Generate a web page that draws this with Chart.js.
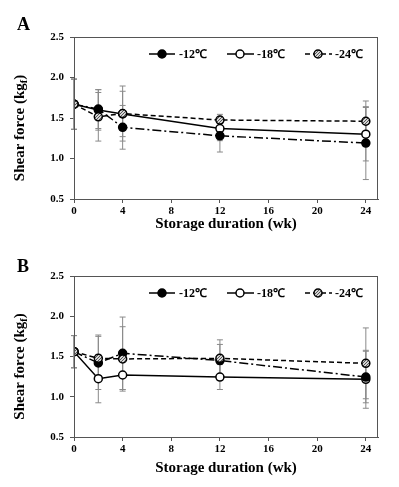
<!DOCTYPE html>
<html>
<head>
<meta charset="utf-8">
<script src="https://cdn.jsdelivr.net/npm/chart.js@4.4.0/dist/chart.umd.min.js"></script>
<style>
    html, body { margin: 0; padding: 0; background: #fff; }
    canvas { display: block; }
</style>
</head>
<body>
<canvas id="chartA" width="399" height="243"></canvas>
<canvas id="chartB" width="399" height="244"></canvas>
<script>
// Semanas de almacenamiento y etiquetas
const weeks = [0, 2, 4, 12, 24];
const xTicks = [0, 4, 8, 12, 16, 20, 24];
const seriesNames = ['-12\u2103', '-18\u2103', '-24\u2103'];

// Panel A
const aMinus12 = [1.67, 1.61, 1.385, 1.28, 1.19];
const aMinus18 = [1.67, 1.60, 1.55, 1.37, 1.30];
const aMinus24 = [1.67, 1.515, 1.555, 1.475, 1.46];
const aMinus12Sd = [0.31, 0.24, 0.27, 0.20, 0.45];
const aMinus18Sd = [0.31, 0.25, 0.28, 0.15, 0.33];
const aMinus24Sd = [0.31, 0.30, 0.34, 0.07, 0.25];

// Panel B
const bMinus12 = [1.56, 1.42, 1.54, 1.45, 1.245];
const bMinus18 = [1.56, 1.225, 1.27, 1.245, 1.217];
const bMinus24 = [1.56, 1.477, 1.47, 1.477, 1.415];
const bMinus12Sd = [0.20, 0.33, 0.45, 0.20, 0.32];
const bMinus18Sd = [0.20, 0.30, 0.18, 0.155, 0.36];
const bMinus24Sd = [0.20, 0.29, 0.40, 0.23, 0.44];

const serif = "'Liberation Serif', 'Times New Roman', serif";

function hatchPattern() {
    const c = document.createElement('canvas');
    c.width = 3; c.height = 3;
    const g = c.getContext('2d');
    g.fillStyle = '#d4d4d4';
    g.fillRect(0, 0, 3, 3);
    g.strokeStyle = '#555';
    g.lineWidth = 1;
    g.beginPath();
    g.moveTo(-1, 4); g.lineTo(4, -1);
    g.moveTo(-1, 1); g.lineTo(1, -1);
    g.moveTo(2, 4); g.lineTo(4, 2);
    g.stroke();
    return g.createPattern(c, 'repeat');
}
const hatch = hatchPattern();

const styles = [
    { dash: [9, 3, 2, 3], fill: '#000', order: 1 },
    { dash: [], fill: '#fff', order: 2 },
    { dash: [5, 3], fill: hatch, order: 0 }
];

function toPoints(vals) {
    return weeks.map((w, k) => ({ x: w, y: vals[k] }));
}

function buildDatasets(series, sds) {
    return series.map((vals, i) => ({
        label: seriesNames[i],
        data: toPoints(vals),
        sd: sds[i],
        borderColor: '#000',
        borderWidth: 1.5,
        borderDash: styles[i].dash,
        pointRadius: 4,
        pointBorderWidth: 1.5,
        pointBorderColor: '#000',
        pointBackgroundColor: styles[i].fill,
        fill: false,
        tension: 0,
        order: styles[i].order
    }));
}

// Barras de error, marco, leyenda y títulos
const extrasPlugin = {
    id: 'extras',
    beforeDatasetsDraw(chart) {
        const ctx = chart.ctx;
        const ys = chart.scales.y;
        ctx.save();
        ctx.strokeStyle = '#8a8a8a';
        ctx.lineWidth = 1;
        chart.data.datasets.forEach((ds, i) => {
            const meta = chart.getDatasetMeta(i);
            meta.data.forEach((pt, j) => {
                const v = ds.data[j].y;
                const top = ys.getPixelForValue(v + ds.sd[j]);
                const bot = ys.getPixelForValue(v - ds.sd[j]);
                ctx.beginPath();
                ctx.moveTo(pt.x, top); ctx.lineTo(pt.x, bot);
                ctx.moveTo(pt.x - 3, top); ctx.lineTo(pt.x + 3, top);
                ctx.moveTo(pt.x - 3, bot); ctx.lineTo(pt.x + 3, bot);
                ctx.stroke();
            });
        });
        ctx.restore();
    },
    afterDraw(chart, args, opts) {
        const ctx = chart.ctx;
        const a = chart.chartArea;
        ctx.save();
        // marco
        ctx.strokeStyle = '#555';
        ctx.lineWidth = 1;
        ctx.strokeRect(a.left + 0.5, a.top + 0.5, a.right - a.left - 1, a.bottom - a.top);

        // leyenda
        ctx.font = 'bold 12px ' + serif;
        ctx.textBaseline = 'middle';
        ctx.fillStyle = '#000';
        const ly = a.top + 17;
        chart.data.datasets.forEach((ds, i) => {
            const x0 = a.left + 75 + i * 78;
            ctx.strokeStyle = '#000';
            ctx.lineWidth = 1.5;
            ctx.setLineDash(styles[i].dash);
            ctx.beginPath();
            ctx.moveTo(x0, ly); ctx.lineTo(x0 + 27, ly);
            ctx.stroke();
            ctx.setLineDash([]);
            ctx.beginPath();
            ctx.arc(x0 + 13, ly, 4, 0, Math.PI * 2);
            ctx.fillStyle = styles[i].fill;
            ctx.fill();
            ctx.stroke();
            ctx.fillStyle = '#000';
            ctx.textAlign = 'left';
            ctx.fillText(ds.label, x0 + 30, ly + 1);
        });

        // título eje Y con subíndice
        ctx.translate(20, (a.top + a.bottom) / 2 + 10);
        ctx.rotate(-Math.PI / 2);
        const big = 'bold 15px ' + serif;
        const small = 'bold 10px ' + serif;
        const p1 = 'Shear force (kg', p2 = 'f', p3 = ')';
        ctx.font = big;
        const w1 = ctx.measureText(p1).width, w3 = ctx.measureText(p3).width;
        ctx.font = small;
        const w2 = ctx.measureText(p2).width;
        let x = -(w1 + w2 + w3) / 2;
        ctx.textAlign = 'left';
        ctx.font = big; ctx.fillText(p1, x, 0); x += w1;
        ctx.font = small; ctx.fillText(p2, x, 4); x += w2;
        ctx.font = big; ctx.fillText(p3, x, 0);
        ctx.restore();

        // letra del panel
        ctx.save();
        ctx.font = 'bold 18px ' + serif;
        ctx.fillStyle = '#000';
        ctx.textAlign = 'left';
        ctx.textBaseline = 'middle';
        ctx.fillText(opts.letter, 17, opts.letterY);
        ctx.restore();
    }
};

function makeChart(id, series, sds, letter, top, axisH, letterY) {
    const ctx = document.getElementById(id).getContext('2d');
    return new Chart(ctx, {
        type: 'line',
        data: { datasets: buildDatasets(series, sds) },
        plugins: [extrasPlugin],
        options: {
            responsive: false,
            animation: false,
            layout: { padding: { top: top, right: 21, left: 0, bottom: 0 } },
            plugins: {
                legend: { display: false },
                tooltip: { enabled: false },
                extras: { letter: letter, letterY: letterY }
            },
            scales: {
                x: {
                    type: 'linear',
                    min: 0,
                    max: 25,
                    afterBuildTicks: function (scale) {
                        scale.ticks = xTicks.map(v => ({ value: v }));
                    },
                    afterFit: function (scale) { scale.height = axisH; },
                    grid: { drawOnChartArea: false, drawTicks: true, tickLength: 4, color: '#555' },
                    border: { display: true, color: '#555', width: 1 },
                    ticks: {
                        color: '#000',
                        padding: 2,
                        maxRotation: 0,
                        font: { family: serif, size: 11, weight: 'bold' }
                    },
                    title: {
                        display: true,
                        text: 'Storage duration (wk)',
                        color: '#000',
                        padding: { top: 10, bottom: 10 },
                        font: { family: serif, size: 15, weight: 'bold' }
                    }
                },
                y: {
                    min: 0.5,
                    max: 2.5,
                    afterFit: function (scale) { scale.width = 74; },
                    grid: { drawOnChartArea: false, drawTicks: true, tickLength: 4, color: '#555' },
                    border: { display: true, color: '#555', width: 1 },
                    ticks: {
                        stepSize: 0.5,
                        color: '#000',
                        padding: 6,
                        font: { family: serif, size: 11, weight: 'bold' },
                        callback: function (v) { return Number(v).toFixed(1); }
                    }
                }
            }
        }
    });
}

makeChart('chartA', [aMinus12, aMinus18, aMinus24], [aMinus12Sd, aMinus18Sd, aMinus24Sd], 'A', 37, 44, 25);
makeChart('chartB', [bMinus12, bMinus18, bMinus24], [bMinus12Sd, bMinus18Sd, bMinus24Sd], 'B', 33, 50, 24);
</script>
</body>
</html>
